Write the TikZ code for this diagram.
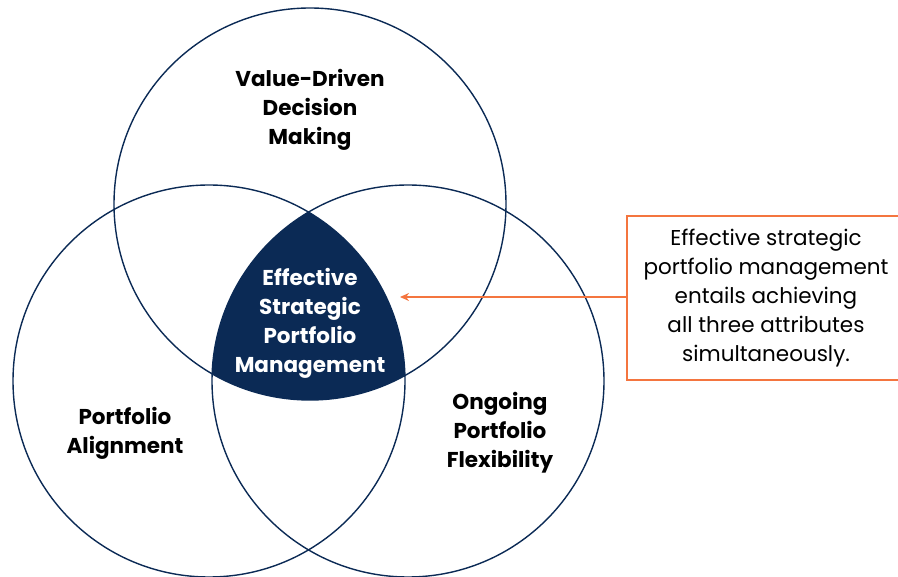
\documentclass[tikz,border=0pt]{standalone}
\usepackage{fontspec}
\setmainfont{Poppins}
\usetikzlibrary{arrows.meta}
\definecolor{navy}{HTML}{0B2A55}
\definecolor{accent}{HTML}{F4753F}
\tikzset{
	ring/.style={draw=navy, line width=1.4pt},
	attr/.style={align=center, font=\fontsize{21.5}{29}\selectfont\bfseries},
	core/.style={attr, text=white},
	note/.style={draw=accent, line width=1.6pt, align=center, font=\fontsize{21.5}{29}\selectfont, minimum width=278pt, minimum height=164pt}
}

\begin{document}
\begin{tikzpicture}[x=1pt, y=-1pt]
			%%%%% START %%%%%
			
			\useasboundingbox (0, 0) rectangle (898, 577);
			
			% centre piece: where all three rings meet
			\begin{scope}
				\clip (310, 204) circle (196);
				\clip (209, 381) circle (196);
				\fill[navy] (408, 381) circle (196);
			\end{scope}
			
			\draw[ring] (310, 204) circle (196);
			\draw[ring] (209, 381) circle (196);
			\draw[ring] (408, 381) circle (196);
			
			\node[attr] (value) at (310, 110) {Value-Driven\\Decision\\Making};
			\node[attr] (align) at (125, 433) {Portfolio\\Alignment};
			\node[attr] (flex) at (500, 433) {Ongoing\\Portfolio\\Flexibility};
			\node[core] (esp) at (310, 323) {Effective\\Strategic\\Portfolio\\Management};
			
			\node[note] (remark) at (766, 298) {Effective strategic\\portfolio management\\entails achieving\\all three attributes\\simultaneously.};
			
			\coordinate (tip) at (400, 297);
			\draw[accent, line width=1.6pt, -{Stealth[length=9pt, width=8pt]}] (remark.west |- tip) -- (tip);
			
			%%%%% END %%%%%
		\end{tikzpicture}
\end{document}
